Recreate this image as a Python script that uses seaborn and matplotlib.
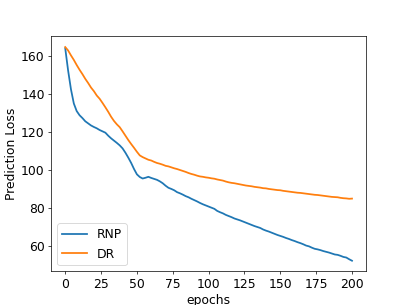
import numpy as np
import pandas as pd
import matplotlib
matplotlib.use('Agg')
import matplotlib.pyplot as plt
import seaborn as sns

# ---- data (every 2 epochs) ----
epochs = list(range(0, 201, 2))

rnp_loss = [
    164.2, 152.5, 142.5, 135.0, 131.0, 128.8, 127.3, 125.6, 124.5, 123.4,
    122.6, 121.9, 121.0, 120.3, 119.6, 118.0, 116.6, 115.4, 114.2, 112.9,
    111.3, 109.0, 106.4, 103.6, 100.4, 97.6, 96.2, 95.4, 95.8, 96.3,
    95.7, 95.2, 94.7, 93.9, 92.9, 91.6, 90.5, 89.9, 89.2, 88.2,
    87.6, 86.9, 86.1, 85.5, 84.7, 84.0, 83.3, 82.5, 81.8, 81.2,
    80.6, 80.0, 79.4, 78.3, 77.6, 77.0, 76.2, 75.6, 75.0, 74.3,
    73.8, 73.3, 72.7, 72.1, 71.5, 70.9, 70.3, 69.8, 69.3, 68.5,
    67.9, 67.4, 66.8, 66.2, 65.6, 65.1, 64.6, 64.0, 63.5, 62.9,
    62.4, 61.8, 61.3, 60.7, 60.0, 59.6, 58.9, 58.3, 58.0, 57.6,
    57.1, 56.7, 56.3, 55.8, 55.3, 55.1, 54.6, 54.0, 53.7, 52.8,
    52.0,
]

dr_loss = [
    164.8, 163.0, 160.4, 158.0, 155.3, 152.8, 150.5, 148.0, 145.8, 143.4,
    141.5, 139.2, 137.5, 135.3, 133.0, 130.6, 128.0, 125.8, 124.0, 122.5,
    120.3, 118.0, 115.7, 113.6, 111.6, 109.5, 107.6, 106.7, 106.0, 105.3,
    104.9, 104.2, 103.6, 103.2, 102.7, 102.1, 101.8, 101.3, 100.8, 100.4,
    99.9, 99.4, 98.9, 98.3, 97.8, 97.4, 96.9, 96.5, 96.3, 96.0,
    95.8, 95.5, 95.3, 94.9, 94.6, 94.3, 93.8, 93.4, 93.1, 92.9,
    92.6, 92.3, 92.0, 91.7, 91.5, 91.3, 91.0, 90.8, 90.6, 90.3,
    90.2, 89.9, 89.7, 89.5, 89.3, 89.2, 88.9, 88.7, 88.5, 88.3,
    88.1, 87.9, 87.8, 87.6, 87.4, 87.2, 87.0, 86.8, 86.7, 86.5,
    86.3, 86.1, 85.9, 85.7, 85.6, 85.5, 85.2, 85.0, 84.9, 84.7,
    84.8,
]

series_names = ['RNP', 'DR']

df = pd.DataFrame({
    'epochs': epochs * 2,
    'loss': rnp_loss + dr_loss,
    'model': [series_names[0]] * len(epochs) + [series_names[1]] * len(epochs),
})

# ---- plot ----
plt.rcParams['font.size'] = 14
fig, ax = plt.subplots(figsize=(6.4, 4.8))

sns.lineplot(data=df, x='epochs', y='loss', hue='model',
             palette=['#1f77b4', '#ff7f0e'], linewidth=2.0, ax=ax)

ax.set_xlabel('epochs', fontsize=14)
ax.set_ylabel('Prediction Loss', fontsize=14)
ax.set_xticks([0, 25, 50, 75, 100, 125, 150, 175, 200])
ax.set_yticks([60, 80, 100, 120, 140, 160])
ax.tick_params(labelsize=14)
ax.legend(loc='lower left', fontsize=14, title=None)

fig.savefig('out.png', dpi=63.6)
